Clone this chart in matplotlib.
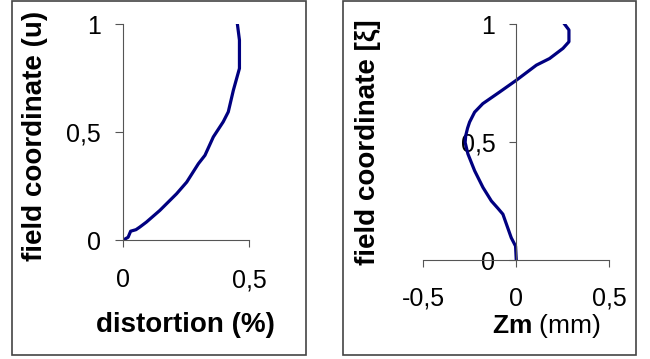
import matplotlib
matplotlib.use('Agg')
import matplotlib.pyplot as plt
from matplotlib.patches import Rectangle

plt.rcParams['font.family'] = ['Liberation Sans', 'DejaVu Sans']
plt.rcParams['mathtext.fontset'] = 'custom'
plt.rcParams['mathtext.bf'] = 'Liberation Sans:bold'
plt.rcParams['mathtext.rm'] = 'Liberation Sans'

# left panel: distortion vs field coordinate u
dist = [0, 0.022, 0.032, 0.053, 0.068, 0.094, 0.147, 0.213, 0.253, 0.299,
        0.325, 0.358, 0.397, 0.417, 0.437, 0.461, 0.461, 0.453]
u = [0, 0.015, 0.043, 0.050, 0.062, 0.085, 0.139, 0.216, 0.27, 0.355,
     0.394, 0.479, 0.549, 0.595, 0.695, 0.796, 0.927, 1.0]

# right panel: Zm vs field coordinate xi
zm = [0, -0.004, -0.027, -0.072, -0.099, -0.134, -0.179, -0.224, -0.26, -0.275,
      -0.272, -0.262, -0.251, -0.224, -0.18, -0.09, 0.0, 0.108, 0.179, 0.251,
      0.283, 0.283, 0.260]
xi = [0, 0.061, 0.096, 0.196, 0.221, 0.252, 0.309, 0.38, 0.451, 0.50,
      0.528, 0.56, 0.586, 0.628, 0.664, 0.713, 0.763, 0.827, 0.855, 0.898,
      0.926, 0.976, 1.0]

left_xticks = [0, 0.5]
left_yticks = [0, 0.5, 1]
right_xticks = [-0.5, 0, 0.5]
right_yticks = [0, 0.5, 1]

def fmt(v):
    # decimal comma like the original
    return ('%g' % v).replace('.', ',')

line_col = '#000080'
axis_col = '#555555'

fig = plt.figure(figsize=(6.5, 3.59), dpi=100)

# panel borders
fig.add_artist(Rectangle((0.0192, 0.0111), 0.4508, 0.9875, transform=fig.transFigure,
                         fill=False, edgecolor='#444444', linewidth=1.2))
fig.add_artist(Rectangle((0.5272, 0.0111), 0.4513, 0.9875, transform=fig.transFigure,
                         fill=False, edgecolor='#444444', linewidth=1.2))

# left
ax1 = fig.add_axes([0.1885, 0.3301, 0.1951, 0.6022])
ax1.plot(dist, u, color=line_col, lw=2.3)
ax1.set_xlim(0, 0.5)
ax1.set_ylim(0, 1)
ax1.set_xticks(left_xticks)
ax1.set_xticklabels([fmt(v) for v in left_xticks])
ax1.set_yticks(left_yticks)
ax1.set_yticklabels([fmt(v) for v in left_yticks])
ax1.tick_params(axis='x', length=5, width=0.8, color=axis_col, pad=15, labelsize=18)
ax1.tick_params(axis='y', length=5.5, width=0.8, color=axis_col, pad=10, labelsize=18)
for s in ['top', 'right']:
    ax1.spines[s].set_visible(False)
for s in ['left', 'bottom']:
    ax1.spines[s].set_color(axis_col)
    ax1.spines[s].set_linewidth(0.8)

# right
ax2 = fig.add_axes([0.6512, 0.2744, 0.2862, 0.658])
ax2.plot(zm, xi, color=line_col, lw=2.3)
ax2.set_xlim(-0.5, 0.5)
ax2.set_ylim(0, 1)
ax2.set_xticks(right_xticks)
ax2.set_xticklabels([fmt(v) for v in right_xticks])
ax2.set_yticks(right_yticks)
ax2.set_yticklabels([fmt(v) for v in right_yticks])
ax2.spines['left'].set_position(('data', 0))
ax2.tick_params(axis='x', length=5, width=0.8, color=axis_col, pad=14, labelsize=18)
ax2.tick_params(axis='y', length=5, width=0.8, color=axis_col, pad=10, labelsize=18)
for s in ['top', 'right']:
    ax2.spines[s].set_visible(False)
for s in ['left', 'bottom']:
    ax2.spines[s].set_color(axis_col)
    ax2.spines[s].set_linewidth(0.8)

# axis titles
fig.text(0.0546, 0.621, 'field coordinate (u)', rotation=90, ha='center', va='center',
         fontsize=20, fontweight='bold')
fig.text(0.286, 0.0947, 'distortion (%)', ha='center', va='center',
         fontsize=20, fontweight='bold')
fig.text(0.5654, 0.603, 'field coordinate [ξ]', rotation=90, ha='center', va='center',
         fontsize=20, fontweight='bold')
fig.text(0.84, 0.092, r'$\mathbf{Zm}$ (mm)', ha='center', va='center', fontsize=19)

fig.savefig('out.png', dpi=100)
